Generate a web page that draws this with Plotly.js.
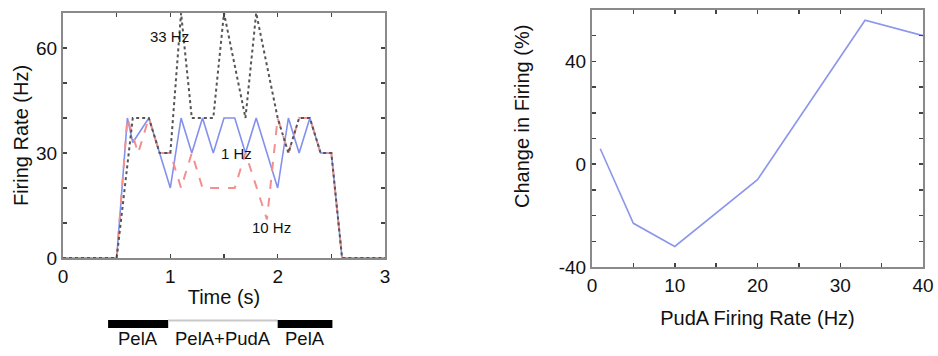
<!DOCTYPE html>
<html>
<head>
<meta charset="utf-8">
<script src="https://cdn.plot.ly/plotly-3.0.1.min.js"></script>
<style>html,body{margin:0;padding:0;background:#fff}#chart{width:938px;height:356px}</style>
</head>
<body>
<div id="chart"></div>
<script>
// Left panel: firing rate over time for three PudA rates
const tBlue = [0, 0.5, 0.6, 0.65, 0.8, 0.9, 1.0, 1.1, 1.2, 1.3, 1.4, 1.5, 1.6, 1.7, 1.8, 2.0, 2.1, 2.2, 2.3, 2.4, 2.5, 2.6, 3.0];
const rateBlue = [0, 0, 40, 33, 40, 30, 20, 40, 30, 40, 30, 40, 40, 30, 40, 20, 40, 30, 40, 30, 30, 0, 0];
const tRed = [0, 0.5, 0.6, 0.7, 0.8, 0.9, 1.0, 1.1, 1.2, 1.3, 1.6, 1.7, 1.9, 2.0, 2.1, 2.2, 2.3, 2.4, 2.5, 2.6, 3.0];
const rateRed = [0, 0, 40, 30, 40, 30, 30, 20, 30, 20, 20, 30, 11, 40, 30, 40, 40, 30, 30, 0, 0];
const tGray = [0, 0.5, 0.65, 0.8, 0.9, 1.0, 1.1, 1.2, 1.4, 1.5, 1.7, 1.8, 2.0, 2.1, 2.2, 2.3, 2.4, 2.5, 2.6, 3.0];
const rateGray = [0, 0, 40, 40, 30, 30, 70, 40, 40, 70, 40, 70, 40, 30, 40, 40, 30, 30, 0, 0];
const seriesLabels = ['1 Hz', '10 Hz', '33 Hz'];
const labelX = [1.62, 1.94, 0.99];
const labelY = [29.8, 8.6, 63.3];

// Stimulation epochs shown under the time axis
const epochLabels = ['PelA', 'PelA+PudA', 'PelA'];
const epochStart = [0.42, 0.98, 2.0];
const epochEnd = [0.98, 2.0, 2.51];
const epochActive = [true, false, true];

// Right panel: change in firing vs PudA rate
const pudaRate = [1, 5, 10, 20, 33, 40];
const changePct = [6, -23, -32, -6, 56, 50];

const W = 938, H = 356;
const px = v => v / W, py = v => (H - v) / H;
const fontFam = 'Liberation Sans, Arial, sans-serif';
const frame = {showline: true, linecolor: '#8a8a8a', linewidth: 2, mirror: 'ticks',
  ticks: 'inside', ticklen: 4, tickwidth: 1.5, tickcolor: '#444', showgrid: false, zeroline: false,
  tickfont: {family: fontFam, size: 19, color: '#111'}, fixedrange: true};

const traces = [
  {x: tBlue, y: rateBlue, mode: 'lines', line: {color: '#8490ee', width: 1.6}, xaxis: 'x', yaxis: 'y', name: seriesLabels[0]},
  {x: tRed, y: rateRed, mode: 'lines', line: {color: '#f29090', width: 2, dash: 'dash'}, xaxis: 'x', yaxis: 'y', name: seriesLabels[1]},
  {x: tGray, y: rateGray, mode: 'lines', line: {color: '#555555', width: 2, dash: 'dot'}, xaxis: 'x', yaxis: 'y', name: seriesLabels[2]},
  {x: pudaRate, y: changePct, mode: 'lines', line: {color: '#8c96ea', width: 1.6}, xaxis: 'x2', yaxis: 'y2', name: 'Change'}
];

const annotations = seriesLabels.map((s, i) => ({
  text: s, x: labelX[i], y: labelY[i], xref: 'x', yref: 'y', showarrow: false,
  font: {family: fontFam, size: 15, color: '#111'}, xanchor: 'center', yanchor: 'middle'
}));

const epochTextY = py(338);
epochLabels.forEach((s, i) => {
  annotations.push({text: s, x: (epochStart[i] + epochEnd[i]) / 2, y: epochTextY, xref: 'x', yref: 'paper',
    showarrow: false, font: {family: fontFam, size: 18.5, color: '#111'}, xanchor: 'center', yanchor: 'middle'});
});

// Right panel y-axis title (placed as in the reference, above the axis centre)
annotations.push({text: 'Change in Firing (%)', x: px(522), y: py(117), xref: 'paper', yref: 'paper',
  showarrow: false, textangle: -90, font: {family: fontFam, size: 20, color: '#111'},
  xanchor: 'center', yanchor: 'middle'});

const shapes = epochLabels.map((s, i) => epochActive[i]
  ? {type: 'rect', xref: 'x', yref: 'paper', x0: epochStart[i], x1: epochEnd[i], y0: py(328), y1: py(320),
     fillcolor: '#000', line: {width: 0}}
  : {type: 'line', xref: 'x', yref: 'paper', x0: epochStart[i], x1: epochEnd[i], y0: py(320.5), y1: py(320.5),
     line: {color: '#c8c8c8', width: 2}});

const layout = {
  width: W, height: H, margin: {l: 0, r: 0, t: 0, b: 0},
  paper_bgcolor: '#fff', plot_bgcolor: '#fff', showlegend: false,
  font: {family: fontFam, color: '#111'},
  xaxis: Object.assign({}, frame, {domain: [px(63), px(385)], range: [0, 3], anchor: 'y',
    tickvals: [0, 0.5, 1, 1.5, 2, 2.5, 3], ticktext: ['0', '', '1', '', '2', '', '3'],
    title: {text: 'Time (s)', font: {family: fontFam, size: 20, color: '#111'}, standoff: 4}}),
  yaxis: Object.assign({}, frame, {domain: [py(258), py(13)], range: [0, 70], anchor: 'x',
    tickvals: [0, 10, 20, 30, 40, 50, 60, 70], ticktext: ['0', '', '', '30', '', '', '60', ''],
    title: {text: 'Firing Rate (Hz)', font: {family: fontFam, size: 20, color: '#111'}, standoff: 2}}),
  xaxis2: Object.assign({}, frame, {domain: [px(592), px(923)], range: [0, 40], anchor: 'y2',
    tickvals: [0, 5, 10, 15, 20, 25, 30, 35, 40], ticktext: ['0', '', '10', '', '20', '', '30', '', '40'],
    title: {text: 'PudA Firing Rate (Hz)', font: {family: fontFam, size: 20, color: '#111'}, standoff: 16}}),
  yaxis2: Object.assign({}, frame, {domain: [py(267), py(10)], range: [-40, 60], anchor: 'x2',
    tickvals: [-40, -30, -20, -10, 0, 10, 20, 30, 40, 50, 60], ticktext: ['-40', '', '', '', '0', '', '', '', '40', '', '']}),
  annotations: annotations,
  shapes: shapes
};

Plotly.newPlot('chart', traces, layout, {displayModeBar: false, staticPlot: true});
</script>
</body>
</html>
